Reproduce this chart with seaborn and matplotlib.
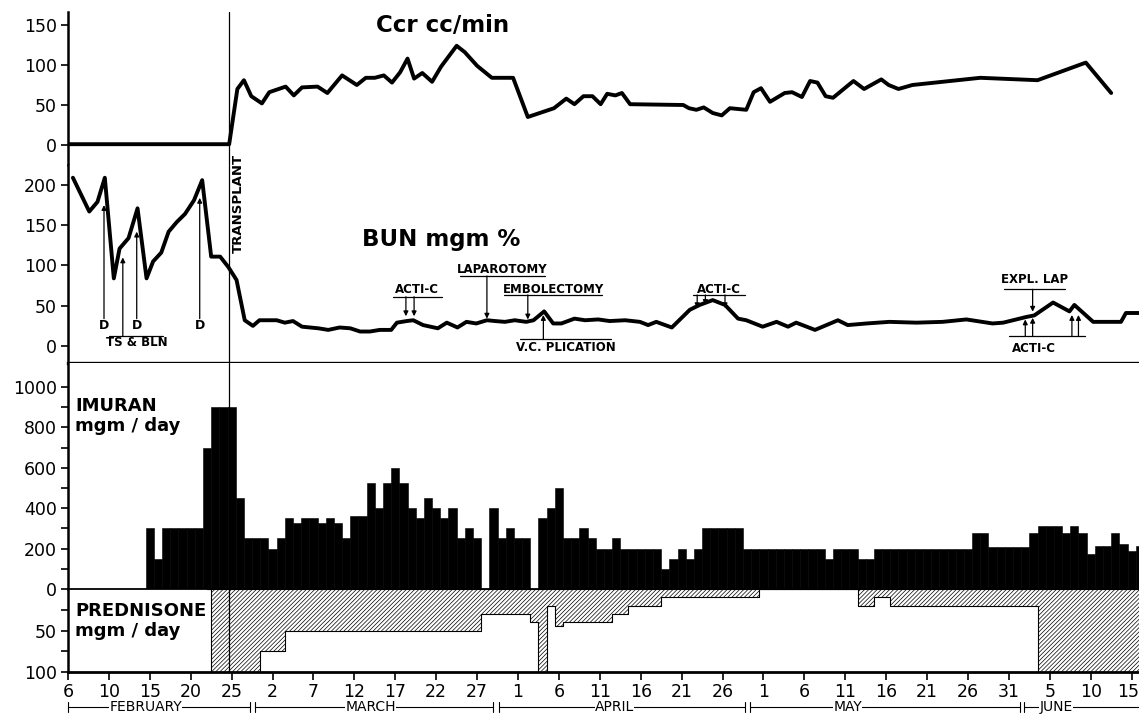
import numpy as np
import pandas as pd
import seaborn as sns
import matplotlib.pyplot as plt
from matplotlib.transforms import blended_transform_factory, ScaledTranslation

# ==========================================
# 1. DADOS (dias contados a partir de 5 de fevereiro)
# ==========================================
ccr_day = [0, 19.7, 20.7, 21.5, 22.4, 23.7, 24.6, 26.6, 27.6, 28.6, 30.5, 31.7, 33.5, 35.3,
           36.4, 37.5, 38.6, 39.6, 40.6, 41.5, 42.3, 43.3, 44.5, 45.6, 47.5, 48.5, 50.0, 51.8,
           54.4, 56.2, 59.4, 60.9, 61.9, 63.0, 64.1, 65.1, 65.9, 66.9, 67.7, 68.7, 75.2, 75.9,
           76.8, 77.7, 78.8, 79.9, 80.9, 82.9, 83.8, 84.7, 85.8, 87.6, 88.5, 89.7, 90.7, 91.6,
           92.6, 93.5, 96.0, 97.3, 99.4, 100.3, 101.5, 103.2, 111.5, 118.5, 124.4, 127.5]
ccr_val = [1, 1, 70, 81, 61, 52, 66, 73, 62, 72, 73, 65, 87, 75,
           84, 84, 87, 78, 91, 108, 83, 90, 79, 98, 124, 116, 99, 84,
           84, 35, 46, 58, 51, 61, 61, 51, 64, 62, 65, 51, 50, 46,
           44, 47, 40, 37, 46, 44, 66, 71, 54, 65, 66, 60, 80, 78,
           61, 59, 80, 70, 82, 75, 70, 75, 84, 81, 103, 65]

bun_day = [0.6, 2.6, 3.6, 4.5, 5.6, 6.3, 7.4, 8.5, 9.6, 10.4, 11.4, 12.3, 13.3, 14.3, 15.4,
           16.4, 17.5, 18.6, 19.6, 20.6, 21.6, 22.6, 23.4, 25.5, 26.5, 27.5, 28.6, 30.6, 31.8,
           33.2, 34.5, 35.7, 36.9, 38.1, 39.5, 40.2, 41.4, 42.2, 43.4, 45.2, 46.3, 47.6, 48.7,
           49.9, 51.2, 52.2, 53.4, 54.6, 56.0, 56.9, 58.2, 59.3, 60.3, 61.9, 63.2, 64.8, 66.2,
           68.1, 69.9, 70.9, 71.9, 73.8, 76.0, 77.2, 78.8, 80.3, 81.9, 82.9, 84.9, 86.6, 88.0,
           89.0, 91.3, 94.1, 95.3, 97.6, 100.4, 103.7, 106.9, 109.8, 113.0, 114.3, 117.1, 118.1,
           120.4, 122.4, 123.0, 125.3, 128.7, 129.3, 130.9]
bun_val = [209, 167, 179, 209, 84, 121, 134, 171, 84, 105, 116, 142, 154, 164, 181,
           206, 111, 111, 98, 82, 32, 25, 32, 32, 29, 31, 24, 22, 20,
           23, 22, 18, 18, 20, 20, 29, 31, 32, 26, 22, 29, 23, 30,
           28, 32, 31, 30, 32, 30, 32, 43, 28, 28, 34, 32, 33, 31,
           32, 30, 26, 30, 23, 45, 51, 57, 51, 34, 32, 24, 30, 24,
           29, 20, 32, 26, 28, 30, 29, 30, 33, 28, 29, 36, 38,
           54, 43, 51, 30, 30, 41, 41]

# Imuran mgm/dia, um valor por dia a partir do dia 10 (15 de fevereiro)
imuran_first_day = 10
imuran_val = [300, 150, 300, 300, 300, 300, 300, 700, 900, 900,
              900, 450, 250, 250, 250, 200, 250, 350, 325, 350,
              350, 325, 350, 325, 250, 360, 360, 525, 400, 525,
              600, 525, 400, 350, 450, 400, 350, 400, 250, 300,
              250, 0, 400, 250, 300, 250, 250, 0, 350, 400,
              500, 250, 250, 300, 250, 200, 200, 250, 200, 200,
              200, 200, 200, 100, 150, 200, 150, 200, 300, 300,
              300, 300, 300, 200, 200, 200, 200, 200, 200, 200,
              200, 200, 200, 150, 200, 200, 200, 150, 150, 200,
              200, 200, 200, 200, 200, 200, 200, 200, 200, 200,
              200, 275, 275, 210, 210, 210, 210, 210, 275, 310,
              310, 310, 275, 310, 275, 175, 215, 215, 275, 225,
              190, 215]

# Prednisone mgm/dia, um valor por dia a partir do dia 17
prednisone_first_day = 17
prednisone_val = [0, 100, 100, 100, 100, 100, 100, 75, 75, 75,
                  50, 50, 50, 50, 50, 50, 50, 50, 50, 50,
                  50, 50, 50, 50, 50, 50, 50, 50, 50, 50,
                  50, 50, 50, 50, 30, 30, 30, 30, 30, 30,
                  40, 100, 20, 45, 40, 40, 40, 40, 40, 40,
                  30, 30, 20, 20, 20, 20, 10, 10, 10, 10,
                  10, 10, 10, 10, 10, 10, 10, 10, 0, 0,
                  0, 0, 0, 0, 0, 0, 0, 0, 0, 0,
                  20, 20, 10, 10, 20, 20, 20, 20, 20, 20,
                  20, 20, 20, 20, 20, 20, 20, 20, 20, 20,
                  20, 20, 100, 100, 100, 100, 100, 100, 100, 100,
                  100, 100, 100, 100, 100]

transplant_day = 19.7

tick_labels = ['6', '10', '15', '20', '25', '2', '7', '12', '17', '22', '27',
               '1', '6', '11', '16', '21', '26', '1', '6', '11', '16', '21', '26', '31',
               '5', '10', '15']
months = ['FEBRUARY', 'MARCH', 'APRIL', 'MAY', 'JUNE']
month_start = [0, 22.8, 52.7, 83.3, 116.9]
month_end = [22.2, 52.0, 82.8, 116.3, 131.5]
month_label_day = [9.5, 37.0, 66.8, 95.3, 120.8]

imu_days = np.arange(imuran_first_day, imuran_first_day + len(imuran_val))
pre_days = np.arange(prednisone_first_day, prednisone_first_day + len(prednisone_val))

# ==========================================
# 2. FIGURA
# ==========================================
sns.set_theme(style='ticks')
plt.rcParams['font.family'] = ['DejaVu Sans']
plt.rcParams['hatch.linewidth'] = 0.5
for k in ['text.color', 'axes.labelcolor', 'xtick.color', 'ytick.color', 'axes.edgecolor']:
    plt.rcParams[k] = 'black'

W_PX, H_PX = 1139, 716
fig = plt.figure(figsize=(W_PX / 100, H_PX / 100), dpi=100)
left = 68 / W_PX


def painel(top, bottom):
    return fig.add_axes([left, 1 - bottom / H_PX, 1 - left, (bottom - top) / H_PX])


ax_ccr = painel(12, 165)
ax_bun = painel(165, 363)
ax_imu = painel(363, 589)
ax_pre = painel(589, 672)
eixos = [ax_ccr, ax_bun, ax_imu, ax_pre]

# Ccr
sns.lineplot(x=ccr_day, y=ccr_val, ax=ax_ccr, color='black', linewidth=2.8, estimator=None)
ax_ccr.set_ylim(-25, 166.25)
ax_ccr.set_yticks([0, 50, 100, 150])
ax_ccr.text(45.8, 150, 'Ccr cc/min', fontsize=16.5, fontweight='bold', ha='center', va='center')

# BUN
sns.lineplot(x=bun_day, y=bun_val, ax=ax_bun, color='black', linewidth=2.8, estimator=None)
ax_bun.set_ylim(-21.1, 224.8)
ax_bun.set_yticks([0, 50, 100, 150, 200])
ax_bun.text(45.6, 131.7, 'BUN mgm %', fontsize=16.5, fontweight='bold', ha='center', va='center')

# Imuran
sns.barplot(x=imu_days, y=imuran_val, native_scale=True, width=1.0, color='black',
            edgecolor='black', linewidth=0.4, saturation=1, errorbar=None, ax=ax_imu)
ax_imu.set_ylim(0, 1118.8)
ax_imu.set_yticks(np.arange(0, 1001, 100))
ax_imu.set_yticklabels([str(v) if v % 200 == 0 else '' for v in range(0, 1001, 100)])
ax_imu.text(0.9, 856, 'IMURAN\nmgm / day', fontsize=13, fontweight='bold', ha='left',
            va='center', linespacing=1.15)

# Prednisone (hachurado para baixo)
ax_pre.fill_between(pre_days, 0, prednisone_val, step='mid', facecolor='white',
                    edgecolor='black', hatch='////////', linewidth=0.8)
ax_pre.set_ylim(100, 0)
ax_pre.set_yticks([25, 50, 75, 100])
ax_pre.set_yticklabels(['', '50', '', '100'])
ax_pre.text(0.9, 38.5, 'PREDNISONE\nmgm / day', fontsize=13, fontweight='bold', ha='left',
            va='center', linespacing=1.15)

for ax in eixos:
    ax.set_xlim(0, 130.9)
    ax.set_xlabel('')
    ax.set_ylabel('')
    ax.axvline(transplant_day, color='black', linewidth=0.9)
    for s in ['top', 'right', 'bottom']:
        ax.spines[s].set_visible(False)
    ax.spines['left'].set_linewidth(1.8)
    ax.tick_params(axis='y', direction='out', length=5, width=1.2, labelsize=12.5, pad=3)
    if ax is not ax_pre:
        ax.set_xticks([])

ax_bun.spines['bottom'].set_visible(True)
ax_bun.spines['bottom'].set_linewidth(2.4)
ax_pre.spines['top'].set_visible(True)
ax_pre.spines['top'].set_linewidth(1.3)
ax_pre.spines['bottom'].set_visible(True)
ax_pre.spines['bottom'].set_linewidth(2.0)
ax_pre.set_xticks(np.arange(0, 131, 5))
ax_pre.set_xticklabels(tick_labels)
ax_pre.tick_params(axis='x', direction='out', length=6, width=1.2, labelsize=12.5, pad=2)
# ultimo rotulo um pouco para a esquerda para caber na figura
ultimo = ax_pre.get_xticklabels()[-1]
ultimo.set_transform(ultimo.get_transform() + ScaledTranslation(-4 / 100, 0, fig.dpi_scale_trans))

ax_bun.text(20.85, 0.556, 'TRANSPLANT', transform=blended_transform_factory(ax_bun.transData, ax_bun.transAxes),
            rotation=90, fontsize=9.5, fontweight='bold', ha='center', va='bottom')

# ==========================================
# 3. ANOTACOES NO BUN
# ==========================================
def seta(x, de, ate):
    ax_bun.annotate('', xy=(x, ate), xytext=(x, de),
                    arrowprops=dict(arrowstyle='-|>', color='black', lw=0.9,
                                    mutation_scale=7, shrinkA=0, shrinkB=0))


def rotulo(texto, x, y, x0, x1, y_linha):
    ax_bun.text(x, y, texto, fontsize=8.5, fontweight='bold', ha='center', va='center')
    ax_bun.plot([x0, x1], [y_linha, y_linha], color='black', lw=0.9)


for x, tip in [(4.4, 175), (8.4, 142), (16.1, 184)]:
    ax_bun.text(x, 25, 'D', fontsize=9, fontweight='bold', ha='center', va='center')
    seta(x, 34, tip)
seta(6.7, 12, 110)
rotulo('TS & BLN', 8.4, 4, 5.0, 11.6, 12)

rotulo('ACTI-C', 42.6, 69.6, 39.7, 45.7, 61.2)
seta(41.3, 61.2, 37)
seta(42.3, 61.2, 37)

rotulo('LAPAROTOMY', 53.1, 94.4, 47.9, 58.3, 87)
seta(51.2, 87, 34)

rotulo('EMBOLECTOMY', 59.3, 70.4, 53.3, 65.3, 63.4)
seta(56.2, 63.4, 33)

rotulo('V.C. PLICATION', 60.8, -1.5, 55.2, 66.4, 8.3)
seta(58.1, 8.3, 38.5)

rotulo('ACTI-C', 79.5, 70.4, 76.4, 82.7, 63.4)
seta(76.9, 63.4, 47)
seta(77.9, 63.4, 51)
seta(80.3, 63.4, 47)

rotulo('EXPL. LAP', 118.1, 82.9, 114.4, 121.9, 70.4)
seta(117.9, 70.4, 42.6)

rotulo('ACTI-C', 118.0, -3.5, 115.0, 124.3, 12.4)
for x, tip in [(117.0, 33), (117.9, 35), (122.7, 38.5), (123.5, 38.5)]:
    seta(x, 12.4, tip)

# ==========================================
# 4. MESES NO RODAPE
# ==========================================
trans = blended_transform_factory(ax_pre.transData, fig.transFigure)
y_mes = 1 - 707 / H_PX
for nome, s, e, xm in zip(months, month_start, month_end, month_label_day):
    ax_pre.plot([s, e], [y_mes, y_mes], transform=trans, color='black', lw=0.8, clip_on=False)
    for xe in [s, e]:
        ax_pre.plot([xe, xe], [y_mes - 0.007, y_mes + 0.007], transform=trans,
                    color='black', lw=0.8, clip_on=False)
    ax_pre.text(xm, y_mes, nome, transform=trans, fontsize=10, ha='center', va='center',
                bbox=dict(facecolor='white', edgecolor='none', pad=0.2))

fig.savefig('out.png', dpi=100)
